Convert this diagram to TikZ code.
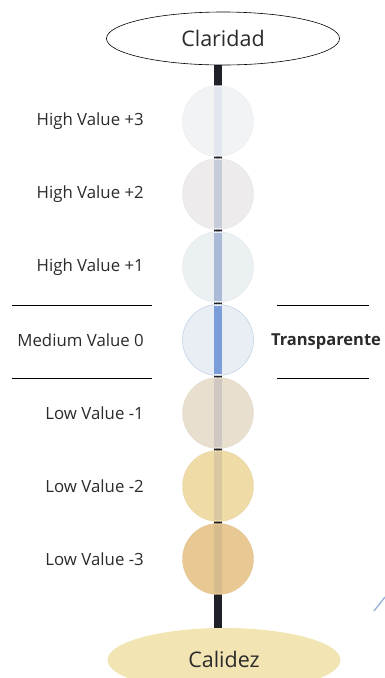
\documentclass[tikz,border=0pt]{standalone}
\usepackage{fontspec}
\setmainfont{Open Sans}
\usetikzlibrary{shapes.geometric}
\definecolor{rodc}{HTML}{1E2128}
\definecolor{calc}{HTML}{F2E4B3}
\definecolor{rimc}{HTML}{C8D6E8}
\definecolor{artc}{HTML}{9FB6DA}
\definecolor{txtc}{HTML}{2B2B2B}
\tikzset{
  lbl/.style={anchor=east, inner sep=0pt, font=\fontsize{16.8}{19}\selectfont, text=txtc},
  sep/.style={draw=black, line width=0.8pt},
  disc/.style={circle, minimum size=71pt, inner sep=0pt, draw=#1!96!black, line width=0.3pt},
  title/.style={ellipse, minimum width=233pt, minimum height=53pt, inner sep=0pt, font=\fontsize{21.5}{24}\selectfont, text=txtc}
}
\begin{document}
\begin{tikzpicture}[x=1pt,y=-1pt]
\useasboundingbox (0,0) rectangle (385,678);
\begin{scope}
\clip (0,0) rectangle (385,678);
% rod
\fill[rodc] (214,60) rectangle (222,640);
% discs
\foreach \i/\dc/\rc/\lab in {
  1/F2F3F5/E2E6EE/{High Value +3},
  2/EDEBEC/C6CCDA/{High Value +2},
  3/EBF0F2/ABBAD7/{High Value +1},
  4/E8EEF4/7B9DD9/{Medium Value 0},
  5/E9DFCF/CFC7C2/{Low Value -1},
  6/EEDBA5/DAC9A0/{Low Value -2},
  7/E8C993/D6BB8D/{Low Value -3}}{
  \pgfmathsetmacro\yy{121+73*(\i-1)}
  \definecolor{dcol}{HTML}{\dc}
  \definecolor{rcol}{HTML}{\rc}
  \node[disc=dcol, fill=dcol] (d\i) at (218,\yy) {};
  \fill[rcol] (214,\yy-34) rectangle (222,\yy+34);
  \node[lbl] (l\i) at (144,\yy) {\lab};
}
% rim of medium disc
\draw[rimc, line width=0.6pt] (d4) circle (35.5pt);
% separators
\coordinate (a1) at (12,305); \coordinate (a2) at (152,305);
\coordinate (b1) at (12,378); \coordinate (b2) at (152,378);
\coordinate (c1) at (277,305); \coordinate (c2) at (369,305);
\coordinate (e1) at (277,378); \coordinate (e2) at (369,378);
\draw[sep] (a1) -- (a2); \draw[sep] (b1) -- (b2);
\draw[sep] (c1) -- (c2); \draw[sep] (e1) -- (e2);
\node[font=\bfseries\fontsize{16.5}{19}\selectfont, text=txtc, inner sep=0pt] (tr) at (326,342) {Transparente};
% titles
\node[title, draw=black, fill=white, line width=0.6pt] (top) at (223,38.5) {Claridad};
\node[title, fill=calc, minimum height=64pt] (bot) at (224,660) {};
\node[font=\fontsize{21.5}{24}\selectfont, text=txtc, inner sep=0pt] (botl) at (224,659) {Calidez};
% small blue artifact
\coordinate (u1) at (374,611); \coordinate (u2) at (385,597);
\draw[artc, line width=1.5pt] (u1) -- (u2);
\end{scope}
\end{tikzpicture}
\end{document}
